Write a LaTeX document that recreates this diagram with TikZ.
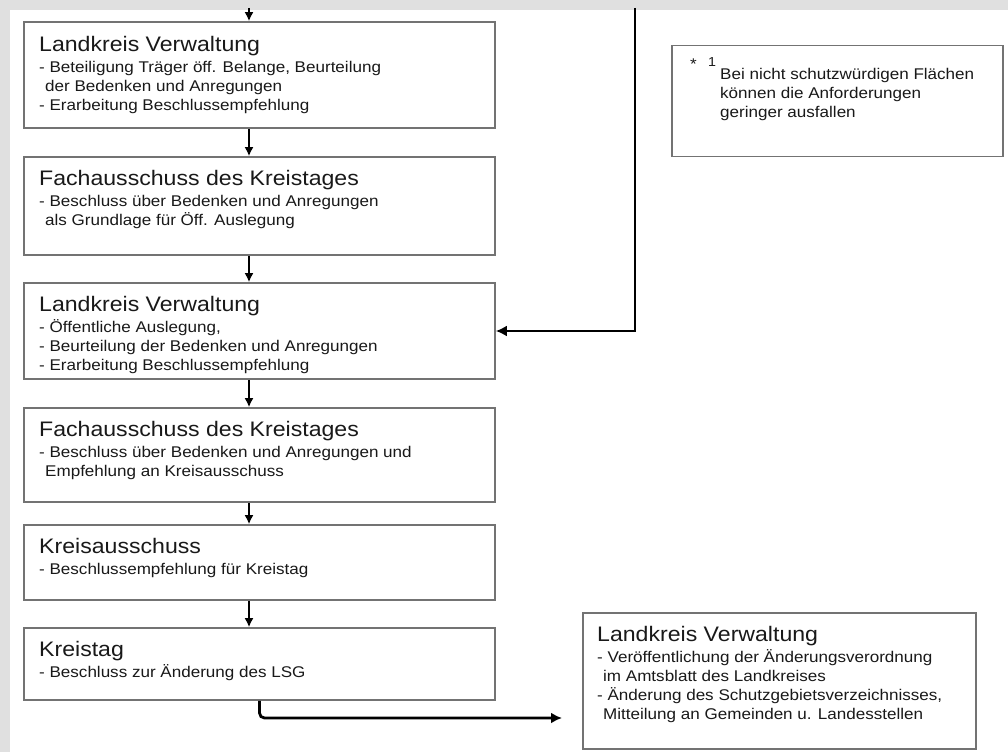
\documentclass[tikz,border=0pt]{standalone}
\usepackage{fontspec}
\setmainfont{Liberation Sans}[FakeStretch=1.1]
\usetikzlibrary{arrows.meta}
\newcommand{\headfont}{\fontsize{21}{21}\selectfont}

\begin{document}
\begin{tikzpicture}[x=1pt, y=-1pt]

\tikzstyle{stage}=[rectangle, draw=black!55, line width=1.6pt, inner sep=0pt]
\tikzstyle{caption}=[anchor=north west, align=left, inner sep=0pt, text=black!90, font=\fontsize{15.5}{19}\selectfont]
\tikzstyle{connect}=[-{Latex[length=9pt, width=9pt]}, line width=1.8pt]
\tikzstyle{route}=[-{Latex[length=11pt, width=11pt]}, line width=2.8pt]

% background
\fill[black!12] (0,0) rectangle (1008,752);
\fill[white] (10,10) rectangle (1008,752);
\useasboundingbox (0,0) rectangle (1008,752);

% main column
\node[stage, minimum width=471, minimum height=106] (lv1) at (259.5,75) {};
\node[caption] (lv1text) at (39,36) {{\headfont Landkreis Verwaltung}\\[2pt]
- Beteiligung Träger öff. Belange, Beurteilung\\
\hspace*{6pt}der Bedenken und Anregungen\\
- Erarbeitung Beschlussempfehlung};

\node[stage, minimum width=471, minimum height=98] (fa1) at (259.5,206) {};
\node[caption] (fa1text) at (39,170) {{\headfont Fachausschuss des Kreistages}\\[2pt]
- Beschluss über Bedenken und Anregungen\\
\hspace*{6pt}als Grundlage für Öff. Auslegung};

\node[stage, minimum width=471, minimum height=96] (lv2) at (259.5,331) {};
\node[caption] (lv2text) at (39,296) {{\headfont Landkreis Verwaltung}\\[2pt]
- Öffentliche Auslegung,\\
- Beurteilung der Bedenken und Anregungen\\
- Erarbeitung Beschlussempfehlung};

\node[stage, minimum width=471, minimum height=94] (fa2) at (259.5,455) {};
\node[caption] (fa2text) at (39,421) {{\headfont Fachausschuss des Kreistages}\\[2pt]
- Beschluss über Bedenken und Anregungen und\\
\hspace*{6pt}Empfehlung an Kreisausschuss};

\node[stage, minimum width=471, minimum height=75] (ka) at (259.5,562.5) {};
\node[caption] (katext) at (39,538) {{\headfont Kreisausschuss}\\[2pt]
- Beschlussempfehlung für Kreistag};

\node[stage, minimum width=471, minimum height=72] (kt) at (259.5,664) {};
\node[caption] (kttext) at (39,641) {{\headfont Kreistag}\\[2pt]
- Beschluss zur Änderung des LSG};

% right side
\node[stage, minimum width=393, minimum height=136] (lv3) at (779.5,681) {};
\node[caption] (lv3text) at (597,626) {{\headfont Landkreis Verwaltung}\\[2pt]
- Veröffentlichung der Änderungsverordnung\\
\hspace*{6pt}im Amtsblatt des Landkreises\\
- Änderung des Schutzgebietsverzeichnisses,\\
\hspace*{6pt}Mitteilung an Gemeinden u. Landesstellen};

\node[stage, minimum width=331, minimum height=111] (note) at (837.5,101) {};
\node[caption] (star) at (690,59) {*};
\node[caption, font=\fontsize{13}{13}\selectfont] (starnum) at (708,57) {1};
\node[caption] (notetext) at (720,68) {Bei nicht schutzwürdigen Flächen\\
können die Anforderungen\\
geringer ausfallen};

% connectors
\coordinate (ax) at (249,0);
\coordinate (topin) at (249,8);
\coordinate (backin) at (635,8);
\coordinate (outtip) at (562,718);

\draw[connect] (topin) -- (lv1.north -| ax);
\draw[connect] (lv1.south -| ax) -- (fa1.north -| ax);
\draw[connect] (fa1.south -| ax) -- (lv2.north -| ax);
\draw[connect] (lv2.south -| ax) -- (fa2.north -| ax);
\draw[connect] (fa2.south -| ax) -- (ka.north -| ax);
\draw[connect] (ka.south -| ax) -- (kt.north -| ax);
\draw[route] (backin) |- (lv2.east);
\draw[route, rounded corners=5pt] (kt.south) |- (outtip);

\end{tikzpicture}
\end{document}
